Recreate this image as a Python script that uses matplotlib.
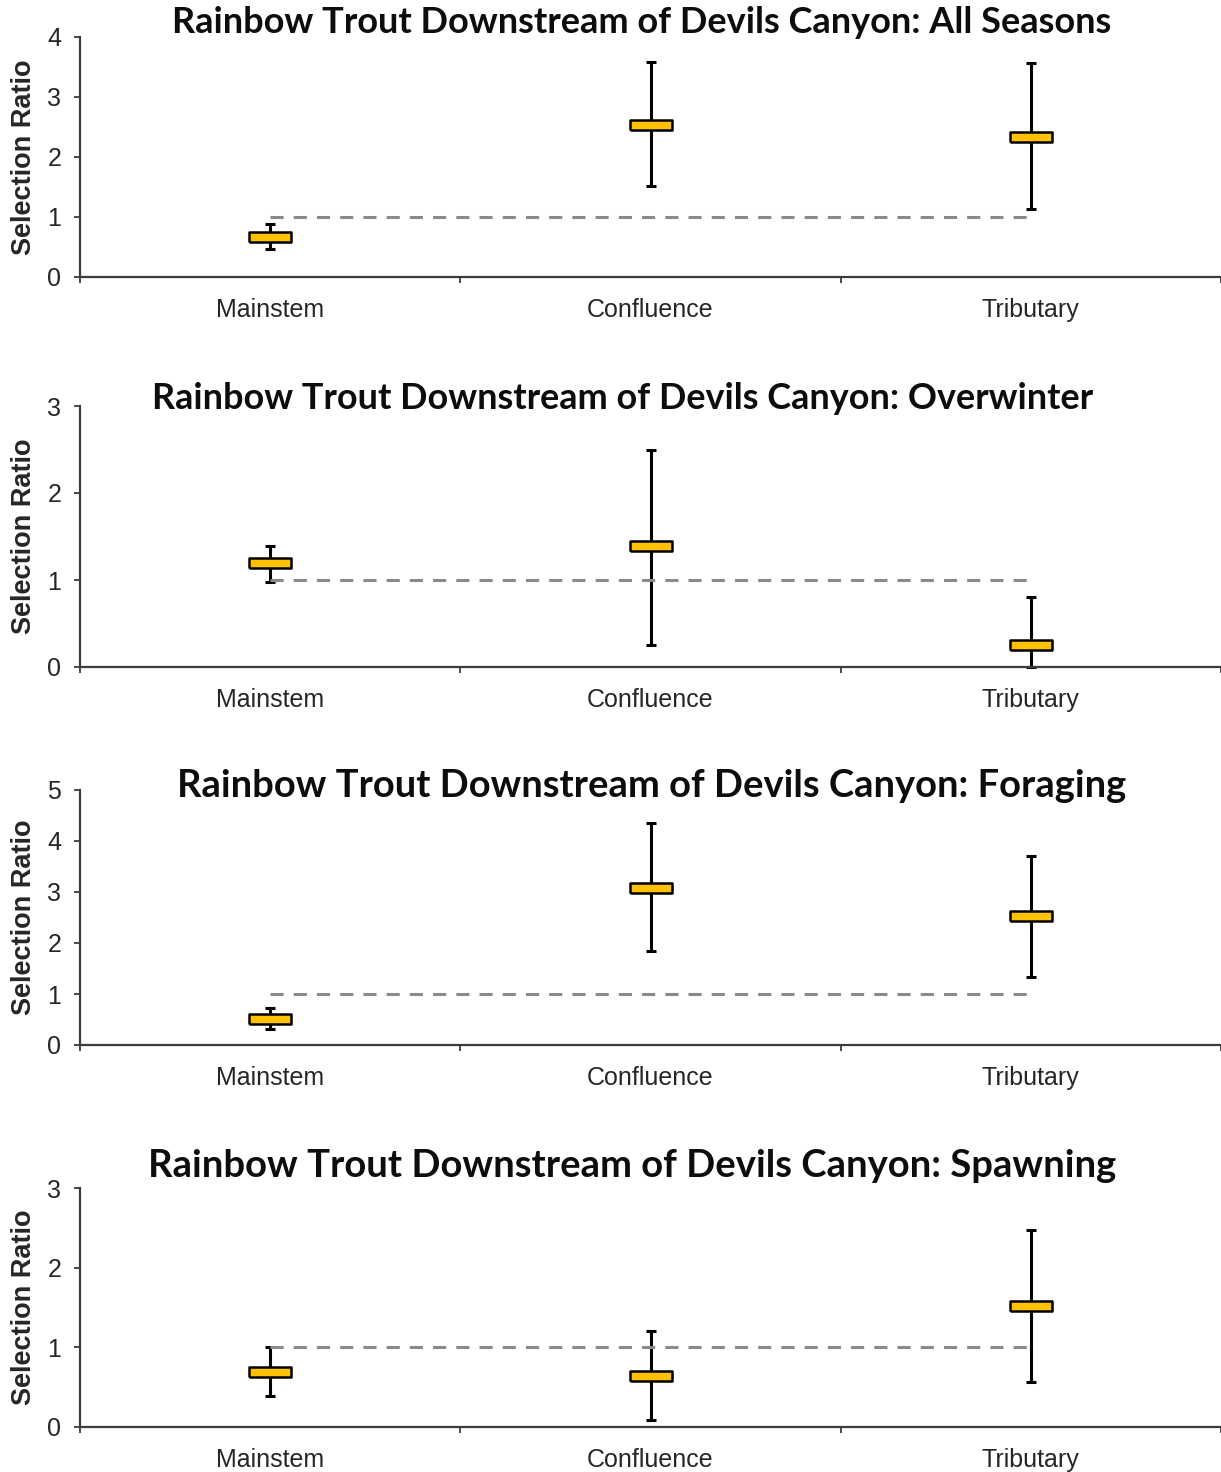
import matplotlib
matplotlib.use("Agg")
import matplotlib.pyplot as plt
from matplotlib.ticker import FixedLocator, NullFormatter

# Habitat categories along the x axis
habitats = ["Mainstem", "Confluence", "Tributary"]

# Selection ratio estimates with lower / upper confidence limits, per season
seasons = ["All Seasons", "Overwinter", "Foraging", "Spawning"]

all_est = [0.66, 2.54, 2.34]
all_low = [0.46, 1.52, 1.14]
all_high = [0.88, 3.58, 3.56]

overwinter_est = [1.19, 1.39, 0.25]
overwinter_low = [0.98, 0.25, 0.00]
overwinter_high = [1.39, 2.49, 0.81]

foraging_est = [0.51, 3.08, 2.53]
foraging_low = [0.31, 1.84, 1.34]
foraging_high = [0.73, 4.35, 3.71]

spawning_est = [0.69, 0.64, 1.52]
spawning_low = [0.39, 0.09, 0.56]
spawning_high = [1.01, 1.20, 2.47]

y_max = [4, 3, 5, 3]
neutral_ratio = 1.0

panels = [
    (all_est, all_low, all_high),
    (overwinter_est, overwinter_low, overwinter_high),
    (foraging_est, foraging_low, foraging_high),
    (spawning_est, spawning_low, spawning_high),
]

W, H = 1221, 1472
fig = plt.figure(figsize=(W / 100, H / 100), dpi=100)

# axes frames in pixels: (top, bottom)
frames = [(37, 277), (406, 667), (790, 1045), (1188, 1427)]
left_px, right_px = 80, 1221
# title centre x and baseline y in pixels
title_pos = [(642, 33), (623, 409), (652, 797), (632, 1177)]
title_width = [939, 941, 948, 968]

box_marker = [(-2, -0.5), (2, -0.5), (2, 0.5), (-2, 0.5), (-2, -0.5)]
axis_col = "#3c3c3c"
text_col = "#262626"

for i, (season, (est, low, high)) in enumerate(zip(seasons, panels)):
    top, bot = frames[i]
    ax = fig.add_axes([left_px / W, 1 - bot / H, (right_px - left_px) / W, (bot - top) / H])
    xs = [k + 0.5 for k in range(len(habitats))]

    yerr = [[e - l for e, l in zip(est, low)], [h - e for e, h in zip(est, high)]]
    ax.errorbar(xs, est, yerr=yerr, fmt="none", ecolor="black", elinewidth=2.2,
                capsize=3.6, capthick=2.2, zorder=2, clip_on=False)
    ax.plot([xs[0], xs[-1]], [neutral_ratio, neutral_ratio], color="#8a8a8a", lw=2.2,
            dashes=(4.3, 3.3), solid_capstyle="butt", dash_capstyle="butt", zorder=3)
    ax.plot(xs, est, linestyle="none", marker=box_marker, markersize=30.5,
            markerfacecolor="#FFC000", markeredgecolor="black", markeredgewidth=1.8,
            zorder=4, clip_on=False)

    ax.set_xlim(0, 3)
    ax.set_ylim(0, y_max[i])
    ax.set_yticks(range(0, y_max[i] + 1))
    ax.xaxis.set_major_locator(FixedLocator([0, 1, 2, 3]))
    ax.xaxis.set_major_formatter(NullFormatter())
    ax.xaxis.set_minor_locator(FixedLocator(xs))
    ax.set_xticklabels(habitats, minor=True)
    ax.tick_params(axis="x", which="major", direction="out", length=4.5, width=1.3, color=axis_col)
    ax.tick_params(axis="x", which="minor", length=0, pad=15, labelsize=18, labelcolor=text_col)
    ax.tick_params(axis="y", direction="out", length=4.5, width=1.3, color=axis_col,
                   pad=9, labelsize=18, labelcolor=text_col)
    for lab in ax.get_xticklabels(minor=True) + ax.get_yticklabels():
        lab.set_fontfamily("Liberation Sans")

    for s in ("top", "right"):
        ax.spines[s].set_visible(False)
    for s in ("left", "bottom"):
        ax.spines[s].set_color(axis_col)
        ax.spines[s].set_linewidth(1.6)

    ax.set_ylabel("Selection Ratio", fontsize=19.5, fontweight="bold",
                  family="Liberation Sans", color=text_col)
    ax.yaxis.set_label_coords((37 - left_px) / (right_px - left_px), 0.5)

    tx, ty = title_pos[i]
    t = fig.text(tx / W, 1 - ty / H, f"Rainbow Trout Downstream of Devils Canyon: {season}",
                 ha="center", va="baseline", fontsize=20, fontweight="bold",
                 family="Lato", color="#0d0d0d")
    fig.canvas.draw()
    w = t.get_window_extent().width
    t.set_fontsize(20 * title_width[i] / w)

fig.savefig("out.png", dpi=100, facecolor="white")
